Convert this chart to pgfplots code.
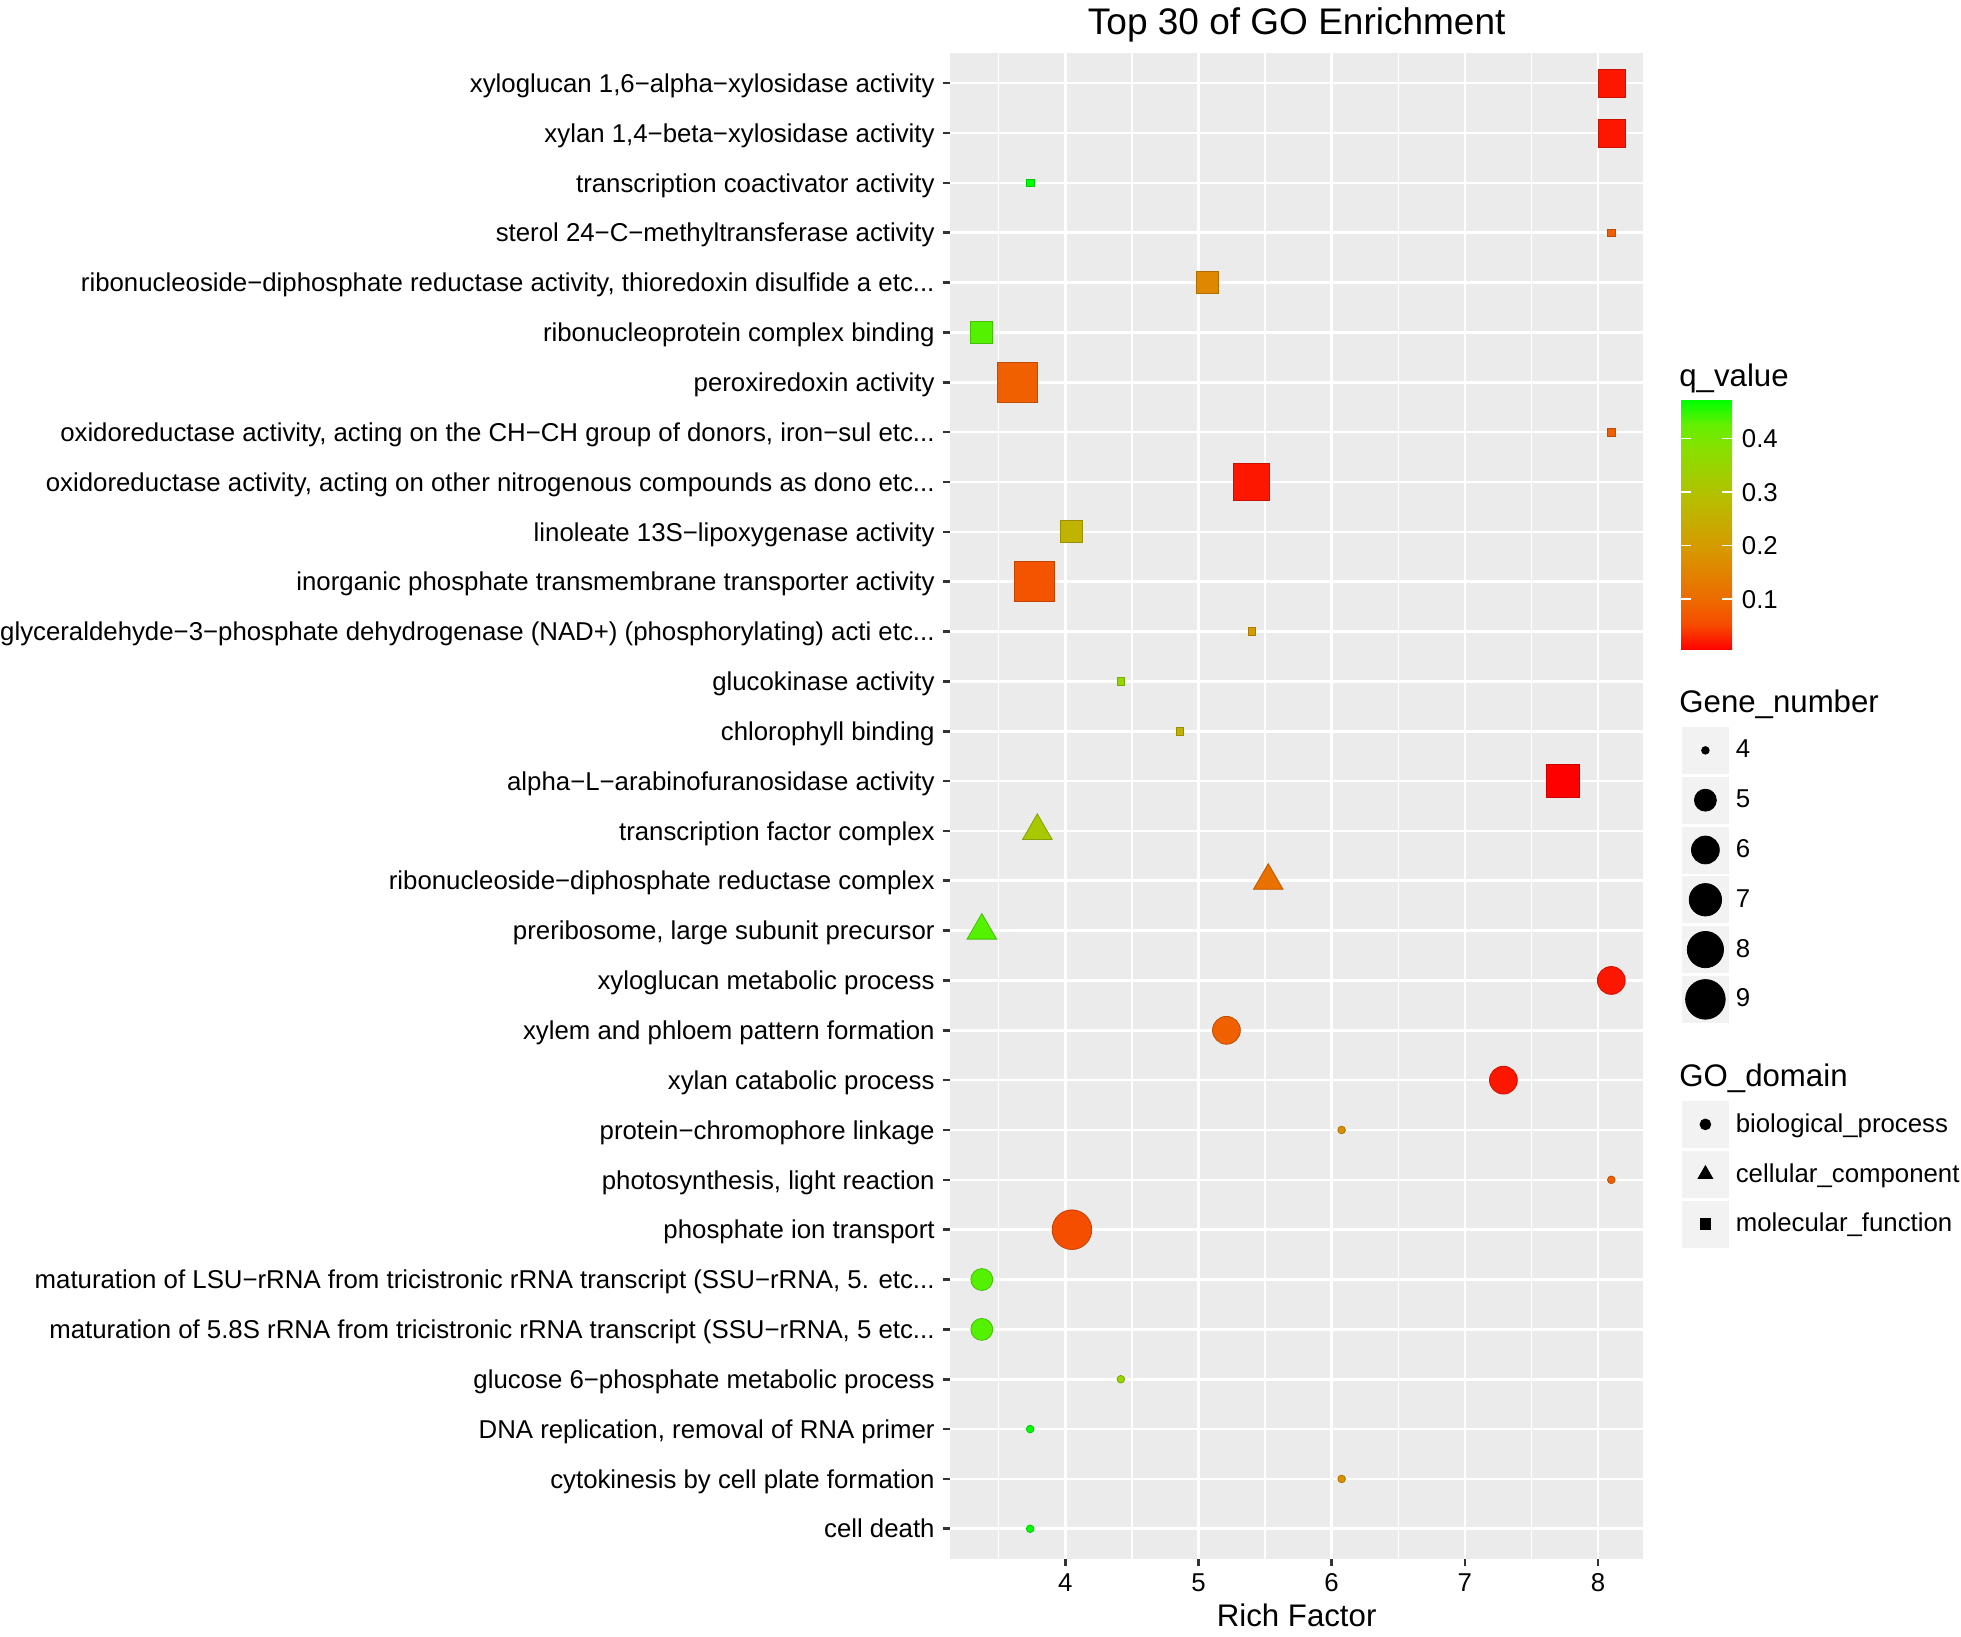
\documentclass[border=0pt]{standalone}
\usepackage{pgfplots}
\pgfplotsset{compat=1.18}
\usepackage{pgfplotstable}
\usepackage{fontspec}
\setmainfont{Liberation Sans}

\definecolor{panelgray}{RGB}{235,235,235}
\definecolor{keygray}{RGB}{242,242,242}
\definecolor{tickgray}{RGB}{51,51,51}

\newcommand{\txt}{\fontsize{12.9}{14}\selectfont}
\newcommand{\ttl}{\fontsize{15.6}{18}\selectfont}
\newcommand{\maintitle}{\fontsize{18.5}{22}\selectfont}
\newcommand{\etc}{etc.{}.{}.}

\pgfplotsset{colormap={rg}{rgb255(0cm)=(255,0,0) rgb255(1cm)=(247,74,0) rgb255(2cm)=(237,106,0)
  rgb255(4cm)=(215,152,0) rgb255(6cm)=(184,189,0) rgb255(8cm)=(138,223,0)
  rgb255(9cm)=(101,239,0) rgb255(10cm)=(0,255,0)}}

% y = row from bottom, x = rich factor, q = q value, genes = gene number
\pgfplotstableread{
y  x     q     genes
12 8.10  0.020 6
11 5.21  0.084 6
10 7.29  0.020 6
9  6.075 0.175 4
8  8.10  0.084 4
7  4.05  0.058 9
6  3.373 0.433 5
5  3.373 0.433 5
4  4.417 0.355 4
3  3.736 0.472 4
2  6.075 0.175 4
1  3.736 0.472 4
}\bioproc
\pgfplotstableread{
y  x     q     genes
15 3.79  0.318 5
14 5.524 0.110 5
13 3.373 0.433 5
}\cellcomp
\pgfplotstableread{
y  x     q     genes
30 8.104 0.019 6
29 8.104 0.019 6
28 3.736 0.472 4
27 8.10  0.084 4
26 5.064 0.158 5
25 3.373 0.433 5
24 3.642 0.084 9
23 8.10  0.084 4
22 5.40  0.019 8
21 4.049 0.262 5
20 3.768 0.066 9
19 5.40  0.200 4
18 4.417 0.355 4
17 4.86  0.255 4
16 7.737 0.005 7
}\molfunc

\begin{document}
\begin{tikzpicture}
\pgfplotsset{
  panel/.style={scale only axis, width=346.7pt, height=752.7pt},
  sizeby/.style={
    visualization depends on={#1*(0.3+1.6*(1+5*sqrt((\thisrow{genes}-4)/5))) \as \msize},
    scatter/@pre marker code/.append style={/tikz/mark size=\msize}},
  keyimg/.style={legend image code/.code={
    \fill[keygray] (0pt,-11.5pt) rectangle (23pt,11.5pt);
    \draw[##1] plot coordinates {(11.5pt,0pt)};}},
  keylegend/.style={legend style={draw=none, fill=none, inner sep=0pt, outer sep=0pt,
    at={(1,1)}, anchor=north west, xshift=19.3pt, yshift=#1,
    nodes={inner sep=0pt, anchor=west, font=\txt}, column sep=3.5pt, row sep=1.5pt}},
}
\begin{axis}[
  panel,
  xmin=3.134, xmax=8.341, ymin=0.4, ymax=30.6,
  axis background/.style={fill=panelgray},
  axis line style={draw=none},
  xtick={4,5,6,7,8},
  minor xtick={3.5,4.5,5.5,6.5,7.5},
  ytick={1,2,3,4,5,6,7,8,9,10,11,12,13,14,15,16,17,18,19,20,21,22,23,24,25,26,27,28,29,30},
  yticklabels={
    {cell death},
    {cytokinesis by cell plate formation},
    {DNA replication, removal of RNA primer},
    {glucose 6−phosphate metabolic process},
    {maturation of 5.8S rRNA from tricistronic rRNA transcript (SSU−rRNA, 5 \etc},
    {maturation of LSU−rRNA from tricistronic rRNA transcript (SSU−rRNA, 5. \etc},
    {phosphate ion transport},
    {photosynthesis, light reaction},
    {protein−chromophore linkage},
    {xylan catabolic process},
    {xylem and phloem pattern formation},
    {xyloglucan metabolic process},
    {preribosome, large subunit precursor},
    {ribonucleoside−diphosphate reductase complex},
    {transcription factor complex},
    {alpha−L−arabinofuranosidase activity},
    {chlorophyll binding},
    {glucokinase activity},
    {glyceraldehyde−3−phosphate dehydrogenase (NAD+) (phosphorylating) acti \etc},
    {inorganic phosphate transmembrane transporter activity},
    {linoleate 13S−lipoxygenase activity},
    {oxidoreductase activity, acting on other nitrogenous compounds as dono \etc},
    {oxidoreductase activity, acting on the CH−CH group of donors, iron−sul \etc},
    {peroxiredoxin activity},
    {ribonucleoprotein complex binding},
    {ribonucleoside−diphosphate reductase activity, thioredoxin disulfide a \etc},
    {sterol 24−C−methyltransferase activity},
    {transcription coactivator activity},
    {xylan 1,4−beta−xylosidase activity},
    {xyloglucan 1,6−alpha−xylosidase activity}},
  tick pos=left,
  tick align=outside,
  major tick length=3.5pt,
  minor tick length=0pt,
  major tick style={draw=tickgray, line width=1.3pt},
  xmajorgrids, ymajorgrids, xminorgrids,
  major grid style={draw=white, line width=1.3pt},
  minor grid style={draw=white, line width=0.65pt},
  /pgf/number format/assume math mode=true,
  ticklabel style={font=\txt, text=black},
  yticklabel style={anchor=base east, inner sep=0pt, xshift=-4pt, yshift=-4.6pt},
  xticklabel style={anchor=base, inner sep=0pt, yshift=-12.7pt},
  xlabel={Rich Factor},
  xlabel style={font=\ttl, at={(axis description cs:0.5,0)}, anchor=base, inner sep=0pt, yshift=-34pt},
  title={Top 30 of GO Enrichment},
  title style={font=\maintitle, at={(axis description cs:0.5,1)}, anchor=base, inner sep=0pt, yshift=3.5pt},
  colormap name=rg,
  point meta min=0.005, point meta max=0.472,
  colorbar,
  colorbar/width=25.5pt,
  colorbar style={
    scale only axis,
    axis on top,
    at={(parent axis.north east)}, anchor=north west,
    xshift=10.3pt, yshift=-173.35pt,
    height=125pt,
    ytick={0.1,0.2,0.3,0.4},
    tick align=inside, ytick pos=both, yticklabel pos=right,
    major tick length=5pt,
    major tick style={draw=white, line width=0.7pt},
    ytick style={draw=white, line width=0.7pt},
    axis line style={draw=none},
    /pgf/number format/assume math mode=true,
    /pgf/number format/fixed, /pgf/number format/fixed zerofill, /pgf/number format/precision=1,
    yticklabel style={font=\txt, anchor=base west, inner sep=0pt, xshift=4.75pt, yshift=-4.6pt},
  },
  clip=false,
]
\addplot[scatter, only marks, mark=*, point meta=explicit, sizeby=1]
  table[x=x, y=y, meta=q] {\bioproc};
\addplot[scatter, only marks, mark=triangle*, point meta=explicit, sizeby=1.555]
  table[x=x, y=y, meta=q] {\cellcomp};
\addplot[scatter, only marks, mark=square*, point meta=explicit, sizeby=1]
  table[x=x, y=y, meta=q] {\molfunc};
\coordinate (SW) at (rel axis cs:0,0);
\coordinate (NE) at (rel axis cs:1,1);
\end{axis}

% Gene_number legend
\begin{axis}[panel, hide axis, xmin=0, xmax=1, ymin=0, ymax=1, keyimg, keylegend=-336.85pt]
\addlegendimage{only marks, mark=*, black, mark size=1.9pt}
\addlegendentry{4}
\addlegendimage{only marks, mark=*, black, mark size=5.48pt}
\addlegendentry{5}
\addlegendimage{only marks, mark=*, black, mark size=6.96pt}
\addlegendentry{6}
\addlegendimage{only marks, mark=*, black, mark size=8.1pt}
\addlegendentry{7}
\addlegendimage{only marks, mark=*, black, mark size=9.06pt}
\addlegendentry{8}
\addlegendimage{only marks, mark=*, black, mark size=9.9pt}
\addlegendentry{9}
\end{axis}

% GO_domain legend
\begin{axis}[panel, hide axis, xmin=0, xmax=1, ymin=0, ymax=1, keyimg, keylegend=-523.85pt]
\addlegendimage{only marks, mark=*, black, mark size=2.7pt}
\addlegendentry{biological\_process}
\addlegendimage{only marks, mark=triangle*, black, mark size=4.2pt}
\addlegendentry{cellular\_component}
\addlegendimage{only marks, mark=square*, black, mark size=2.7pt}
\addlegendentry{molecular\_function}
\end{axis}

\node[anchor=base west, inner sep=0pt, font=\ttl] at ([shift={(17.8pt,-166.85pt)}]NE) {q\_value};
\node[anchor=base west, inner sep=0pt, font=\ttl] at ([shift={(17.8pt,-329.85pt)}]NE) {Gene\_number};
\node[anchor=base west, inner sep=0pt, font=\ttl] at ([shift={(17.8pt,-516.85pt)}]NE) {GO\_domain};

\pgfresetboundingbox
\path ([shift={(-475pt,-39.15pt)}]SW) rectangle ([shift={(158.8pt,26.65pt)}]NE);
\end{tikzpicture}
\end{document}
